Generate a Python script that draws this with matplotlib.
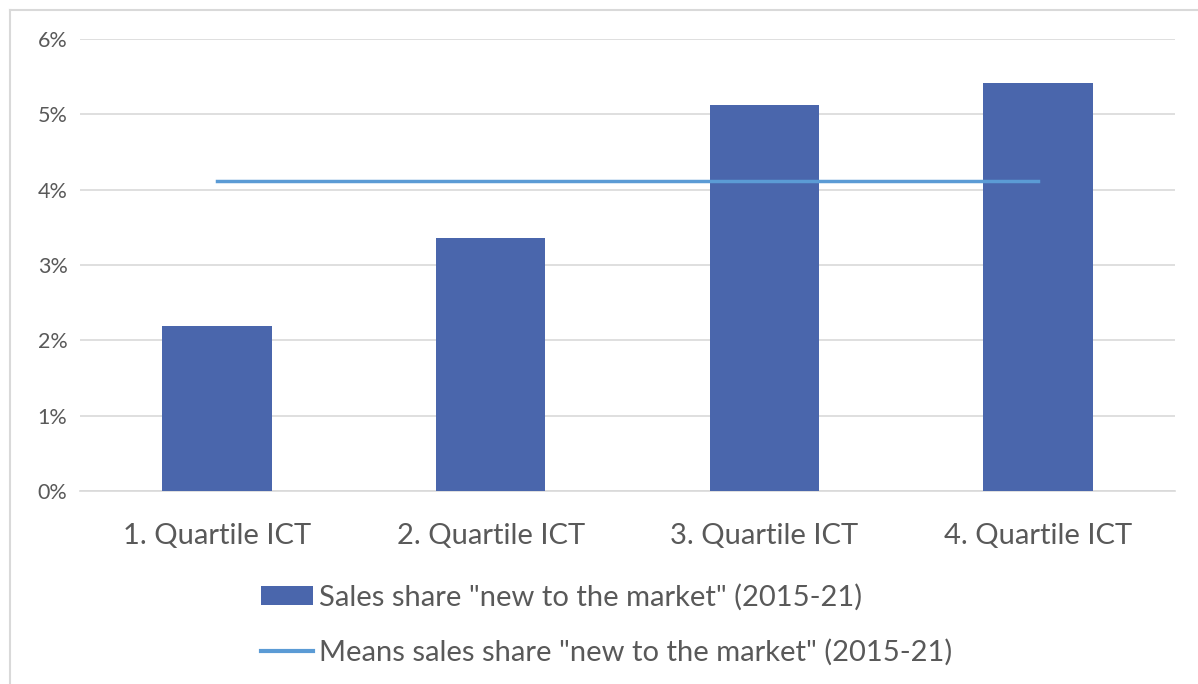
import matplotlib
matplotlib.use('Agg')
import matplotlib.pyplot as plt
from matplotlib.patches import Patch
from matplotlib.lines import Line2D
from matplotlib.ticker import PercentFormatter

categories = ['1. Quartile ICT', '2. Quartile ICT', '3. Quartile ICT', '4. Quartile ICT']
sales_share = [2.19, 3.36, 5.12, 5.42]
mean_share = [4.12, 4.12, 4.12, 4.12]
yticks = [0, 1, 2, 3, 4, 5, 6]

bar_label = 'Sales share "new to the market" (2015-21)'
line_label = 'Means sales share "new to the market" (2015-21)'

bar_color = '#4A66AC'
line_color = '#5B9BD5'
text_color = '#595959'
grid_color = '#D9D9D9'

plt.rcParams['font.family'] = ['Lato', 'DejaVu Sans']

W, H = 1198, 684
fig = plt.figure(figsize=(W / 100, H / 100), dpi=100)
ax = fig.add_axes([80 / W, 1 - 491 / H, (1175 - 80) / W, (491 - 39) / H])

x = list(range(len(categories)))
ax.bar(x, sales_share, width=0.4, color=bar_color, zorder=3)
ax.plot(x, mean_share, color=line_color, linewidth=2.5, zorder=4)

ax.set_xlim(-0.5, 3.5)
ax.set_ylim(0, 6)
ax.set_yticks(yticks)
ax.yaxis.set_major_formatter(PercentFormatter(decimals=0))
ax.set_xticks(x)
ax.set_xticklabels(categories)
ax.tick_params(axis='x', length=0, pad=23, labelsize=21, labelcolor=text_color)
ax.tick_params(axis='y', length=0, pad=9, labelsize=15.5, labelcolor=text_color)
ax.grid(axis='y', color=grid_color, linewidth=1.2, zorder=0)
for s in ['left', 'right', 'top']:
    ax.spines[s].set_visible(False)
ax.spines['bottom'].set_color(grid_color)
ax.spines['bottom'].set_linewidth(1.2)

# outer chart frame (left and top edges visible)
fig.add_artist(Line2D([10 / W, 10 / W], [0, 1 - 10 / H], color=grid_color, linewidth=1.5))
fig.add_artist(Line2D([10 / W, 1], [1 - 10 / H, 1 - 10 / H], color=grid_color, linewidth=1.5))

handles = [Patch(facecolor=bar_color, edgecolor='none'),
           Line2D([0], [0], color=line_color, linewidth=3)]
leg = fig.legend(handles, [bar_label, line_label], loc='upper left',
                 bbox_to_anchor=(246 / W, 1 - 569 / H), frameon=False,
                 fontsize=21, handlelength=1.8, handleheight=0.62,
                 handletextpad=0.2, labelspacing=0.98, borderpad=0)
for t in leg.get_texts():
    t.set_color(text_color)

fig.savefig('out.png', dpi=100)
